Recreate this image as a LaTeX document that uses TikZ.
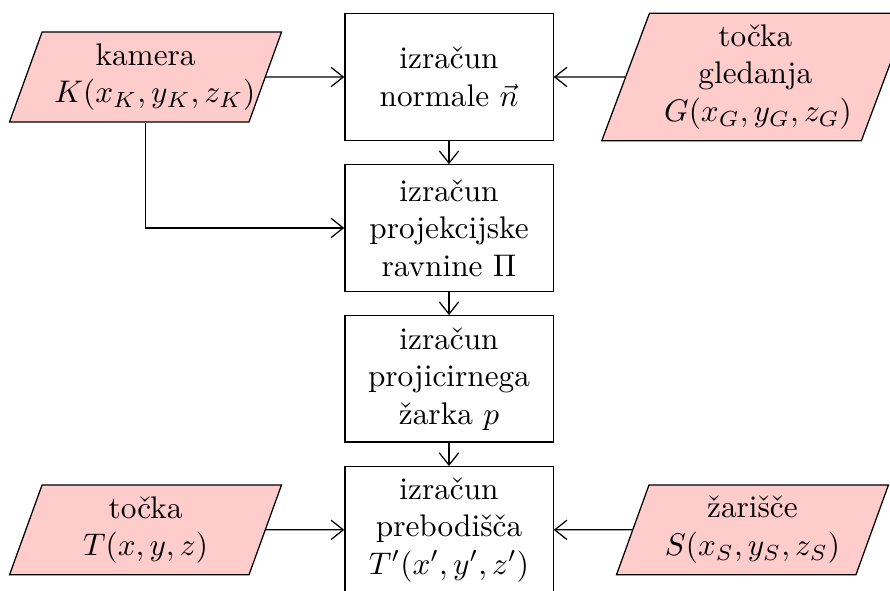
\documentclass[tikz,border=0pt]{standalone}
\usepackage{fontspec}
\usepackage{amsmath}
\definecolor{mypink}{RGB}{255,204,204}
\usetikzlibrary{positioning,chains,shapes.geometric,arrows.meta}

\begin{document}
\begin{tikzpicture}[
    every node/.style={draw,align=center},
    korak/.style={rectangle,minimum width=2.34cm,minimum height=1.42cm},
    vhod/.style={trapezium,trapezium left angle=70,trapezium right angle=110,
        trapezium stretches=true,fill=mypink,text width=2.05cm,
        minimum width=3.06cm,minimum height=1.01cm},
    povezava/.style={-{Straight Barb[length=3.9pt,width=6.2pt]}}
    ]
    
    % the frame of the picture
    \clip (0,0) rectangle (10,-6.63);
    
    % the steps of the computation
    \begin{scope}[start chain=going below,node distance=0.262cm]
    \node[korak,on chain] (k1) at (5.045,-0.865) {izračun\\ normale $\vec{n}$};
    \node[korak,on chain] (k2) {izračun\\ projekcijske\\ ravnine $\Pi$};
    \node[korak,on chain] (k3) {izračun\\ projicirnega\\ žarka $p$};
    \node[korak,on chain] (k4) {izračun\\ prebodišča\\ $T'(x',y',z')$};
    \end{scope}
    
    % the inputs
    \node[vhod,left=0.88cm of k1] (kamera) {kamera\\ $K(x_K,y_K,z_K)$};
    \node[vhod,right=0.8cm of k1,minimum width=3.46cm,minimum height=1.43cm] (gled) {točka\\ gledanja\\ $G(x_G,y_G,z_G)$};
    \node[vhod,left=0.88cm of k4] (tocka) {točka\\ $T(x,y,z)$};
    \node[vhod,right=0.88cm of k4] (zar) {žarišče\\ $S(x_S,y_S,z_S)$};
    
    % the edges
    \draw[povezava] (kamera) -- (k1);
    \draw[povezava] (gled) -- (k1);
    \draw[povezava] (kamera.south) |- (k2.west);
    \draw[povezava] (k1) -- (k2);
    \draw[povezava] (k2) -- (k3);
    \draw[povezava] (k3) -- (k4);
    \draw[povezava] (tocka) -- (k4);
    \draw[povezava] (zar) -- (k4);
    
\end{tikzpicture}
\end{document}
